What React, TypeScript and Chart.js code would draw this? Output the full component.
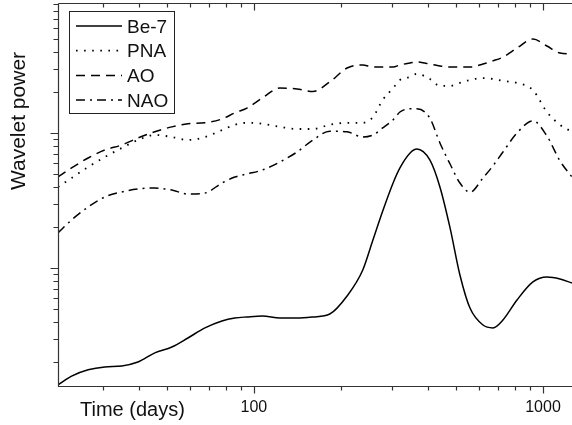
import { useEffect, useRef } from "react";
import { Chart, registerables } from "chart.js";

Chart.register(...registerables);

// Period (days) at which each series is sampled
const days = [21, 23.4, 26.7, 30.5, 34.9, 39.7, 45.4, 52, 59.1, 67.7, 77.5, 85.9, 94.6, 107, 123, 141, 160, 183, 210, 238, 258, 279, 303, 320, 347, 366, 406, 440, 477, 516, 559, 620, 671, 727, 813, 923, 1032, 1145, 1260];

const be7 = [0.136, 0.158, 0.176, 0.185, 0.188, 0.201, 0.235, 0.26, 0.303, 0.36, 0.405, 0.426, 0.434, 0.441, 0.426, 0.426, 0.434, 0.456, 0.62, 0.966, 1.61, 2.64, 4.26, 5.51, 7.11, 7.61, 6.31, 3.98, 1.98, 0.888, 0.505, 0.378, 0.36, 0.412, 0.579, 0.788, 0.857, 0.829, 0.774];
const pna = [3.98, 4.64, 5.6, 6.64, 7.74, 8.87, 9.67, 9.34, 8.87, 9.34, 10.5, 11.5, 11.9, 11.7, 11.1, 10.7, 10.7, 11.5, 11.9, 11.9, 13.1, 17.6, 21.5, 24.7, 26.0, 27.4, 25.1, 22.3, 22.3, 23.5, 24.7, 25.5, 25.1, 24.3, 23.5, 20.8, 14.3, 11.5, 10.2];
const ao = [4.72, 5.51, 6.53, 7.48, 8.15, 9.18, 10.2, 11.1, 11.7, 11.9, 12.7, 14.1, 15.3, 18.2, 21.5, 21.2, 20.3, 23.9, 30.3, 31.9, 30.8, 30.8, 30.8, 31.9, 33.0, 33.6, 32.4, 31.4, 30.8, 30.8, 30.8, 32.4, 34.2, 36.5, 42.6, 49.7, 44.1, 39.1, 38.5];
const nao = [1.82, 2.27, 2.83, 3.36, 3.66, 3.85, 3.91, 3.78, 3.53, 3.59, 4.26, 4.72, 4.97, 5.32, 6.1, 7.23, 8.87, 10.3, 10.2, 9.34, 9.67, 10.9, 12.5, 14.3, 15.1, 15.1, 12.9, 8.43, 5.89, 4.26, 3.64, 4.64, 5.7, 7.23, 10.0, 12.3, 9.5, 6.21, 4.72];

const seriesNames = ["Be-7", "PNA", "AO", "NAO"];

// Axis ticks
const xTickValues = [30, 40, 50, 60, 70, 80, 90, 100, 200, 300, 400, 500, 600, 700, 800, 900, 1000];
const xMajorTicks = [100, 1000];
const xTickLabels = ["100", "1000"];
const yTickValues = [0.2, 0.3, 0.4, 0.5, 0.6, 0.7, 0.8, 0.9, 1, 2, 3, 4, 5, 6, 7, 8, 9, 10, 20, 30, 40, 50, 60, 70, 80, 90];
const yMajorTicks = [1, 10];

const xTitle = "Time (days)";
const yTitle = "Wavelet power";

const FONT = '"Liberation Sans", Arial, Helvetica, sans-serif';

const decoPlugin = {
  id: "deco",
  afterDraw(chart: any) {
    const { ctx, chartArea: a, scales } = chart;
    const xs = scales.x;
    const ys = scales.y;
    ctx.save();
    ctx.strokeStyle = "#333";
    ctx.lineWidth = 1.2;
    ctx.setLineDash([]);
    const L = Math.round(a.left) + 0.5;
    const B = Math.round(a.bottom) + 0.5;
    const T = Math.round(a.top) + 0.5;
    ctx.beginPath();
    ctx.moveTo(L, T);
    ctx.lineTo(L, B);
    ctx.lineTo(a.right + 2, B);
    ctx.moveTo(L, T);
    ctx.lineTo(a.right + 2, T);
    // y ticks (outward, left)
    yTickValues.forEach((v) => {
      const y = Math.round(ys.getPixelForValue(v)) + 0.5;
      if (y < a.top - 0.5 || y > a.bottom + 0.5) return;
      const len = yMajorTicks.includes(v) ? 8 : 5;
      ctx.moveTo(L - len, y);
      ctx.lineTo(L, y);
    });
    // x ticks (outward bottom, inward top)
    xTickValues.forEach((v) => {
      const x = Math.round(xs.getPixelForValue(v)) + 0.5;
      if (x < a.left || x > a.right) return;
      const len = xMajorTicks.includes(v) ? 7 : 4;
      ctx.moveTo(x, B);
      ctx.lineTo(x, B + len);
      ctx.moveTo(x, T);
      ctx.lineTo(x, T + len);
    });
    ctx.stroke();

    // tick labels
    ctx.fillStyle = "#111";
    ctx.font = `16px ${FONT}`;
    ctx.textAlign = "center";
    ctx.textBaseline = "alphabetic";
    xMajorTicks.forEach((v, i) => {
      ctx.fillText(xTickLabels[i], xs.getPixelForValue(v), 412);
    });

    // axis titles
    ctx.font = `20px ${FONT}`;
    ctx.textAlign = "left";
    ctx.fillText(xTitle, 80, 416);

    ctx.save();
    ctx.font = `21px ${FONT}`;
    ctx.translate(25, 121);
    ctx.rotate(-Math.PI / 2);
    ctx.textAlign = "center";
    ctx.fillText(yTitle, 0, 0);
    ctx.restore();

    // legend
    const bx = 69.5, by = 11.5, bw = 105, bh = 102;
    ctx.fillStyle = "#fff";
    ctx.fillRect(bx, by, bw, bh);
    ctx.strokeStyle = "#222";
    ctx.lineWidth = 1;
    ctx.setLineDash([]);
    ctx.strokeRect(bx, by, bw, bh);
    chart.data.datasets.forEach((ds: any, i: number) => {
      const y = 26 + i * 24.7;
      ctx.strokeStyle = ds.borderColor;
      ctx.lineWidth = ds.borderWidth;
      ctx.lineCap = ds.borderCapStyle || "butt";
      ctx.setLineDash(ds.borderDash || []);
      ctx.beginPath();
      ctx.moveTo(76, y);
      ctx.lineTo(122, y);
      ctx.stroke();
      ctx.setLineDash([]);
      ctx.fillStyle = "#111";
      ctx.font = `19px ${FONT}`;
      ctx.textAlign = "left";
      ctx.fillText(ds.label, 127, y + 6.5);
    });
    ctx.restore();
  },
};

export default function App() {
  const ref = useRef<HTMLCanvasElement | null>(null);
  useEffect(() => {
    if (!ref.current) return;
    const mk = (d: number[]) => days.map((x, i) => ({ x, y: d[i] }));
    const chart = new Chart(ref.current, {
      type: "line",
      data: {
        datasets: [
          { label: seriesNames[0], data: mk(be7), borderColor: "#000", borderWidth: 1.5, borderDash: [] },
          { label: seriesNames[1], data: mk(pna), borderColor: "#000", borderWidth: 1.8, borderDash: [1.6, 6.5], borderCapStyle: "butt" },
          { label: seriesNames[2], data: mk(ao), borderColor: "#000", borderWidth: 1.5, borderDash: [9, 6] },
          { label: seriesNames[3], data: mk(nao), borderColor: "#000", borderWidth: 1.5, borderDash: [9, 5, 2, 5] },
        ] as any,
      },
      options: {
        animation: false,
        responsive: false,
        events: [],
        layout: { padding: { left: 58, top: 3, right: 0, bottom: 39 } },
        elements: {
          point: { radius: 0 },
          line: { cubicInterpolationMode: "monotone", fill: false },
        },
        plugins: { legend: { display: false }, title: { display: false }, tooltip: { enabled: false } },
        scales: {
          x: { type: "logarithmic", min: 21, max: 1260, display: false },
          y: { type: "logarithmic", min: 0.1336, max: 91.8, display: false },
        },
      },
      plugins: [decoPlugin],
    });
    return () => chart.destroy();
  }, []);
  return (
    <div style={{ position: "absolute", left: 0, top: 0, width: 572, height: 425, background: "#fff" }}>
      <canvas ref={ref} width={572} height={425} />
    </div>
  );
}
